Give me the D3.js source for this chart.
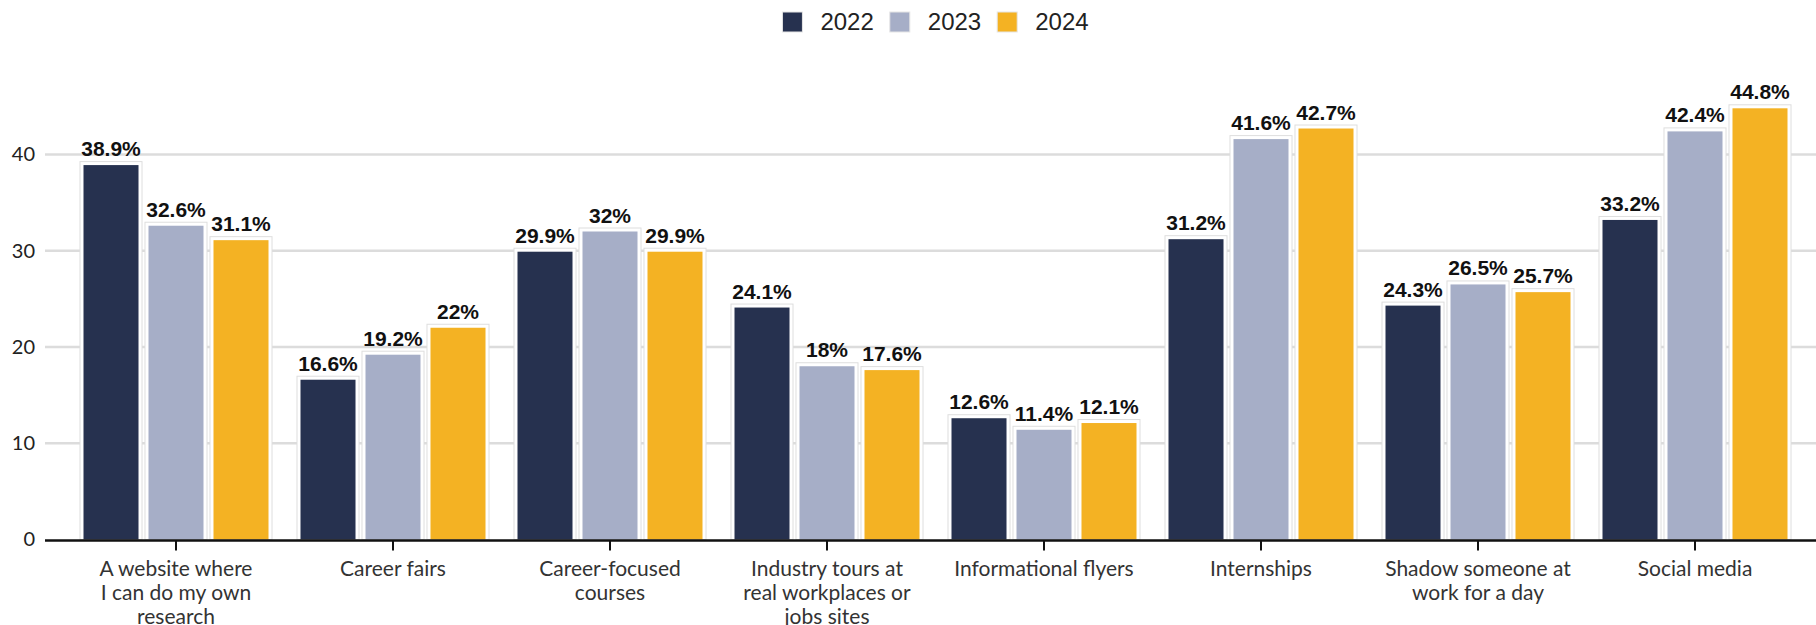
<!DOCTYPE html>
<html>
<head>
<meta charset="utf-8">
<script src="https://cdn.jsdelivr.net/npm/d3@7"></script>
<style>
  html, body { margin: 0; padding: 0; background: #fff; }
  svg { display: block; }
</style>
</head>
<body>
<svg id="chart" width="1816" height="625"></svg>
<script>
// Data
const categories = [
  "A website where I can do my own research",
  "Career fairs",
  "Career-focused courses",
  "Industry tours at real workplaces or jobs sites",
  "Informational flyers",
  "Internships",
  "Shadow someone at work for a day",
  "Social media"
];
const categoryLines = [
  ["A website where", "I can do my own", "research"],
  ["Career fairs"],
  ["Career-focused", "courses"],
  ["Industry tours at", "real workplaces or", "jobs sites"],
  ["Informational flyers"],
  ["Internships"],
  ["Shadow someone at", "work for a day"],
  ["Social media"]
];
const years = ["2022", "2023", "2024"];
const values2022 = [38.9, 16.6, 29.9, 24.1, 12.6, 31.2, 24.3, 33.2];
const values2023 = [32.6, 19.2, 32.0, 18.0, 11.4, 41.6, 26.5, 42.4];
const values2024 = [31.1, 22.0, 29.9, 17.6, 12.1, 42.7, 25.7, 44.8];
const yTicks = [0, 10, 20, 30, 40];
const colors = ["#26314f", "#a6aec7", "#f4b223"];

const series = [values2022, values2023, values2024];
const rows = categories.map((c, i) => ({
  category: c,
  lines: categoryLines[i],
  values: years.map((y, k) => ({ year: y, value: series[k][i] }))
}));

const svg = d3.select("#chart");
const plotLeft = 45, plotRight = 1816;

const x0 = d3.scaleBand().domain(categories).range([67.5, 1803.5]).padding(0);
const groupWidth = 185;
const x1 = d3.scaleBand().domain(years).range([0, groupWidth]).paddingInner(0.1538).paddingOuter(0);
const color = d3.scaleOrdinal().domain(years).range(colors);
const y = d3.scaleLinear().domain([0, 40]).range([539.5, 154.5]);

// Gridlines
svg.append("g")
  .selectAll("line")
  .data(yTicks.filter(d => d !== 0))
  .join("line")
  .attr("x1", plotLeft).attr("x2", plotRight)
  .attr("y1", d => y(d)).attr("y2", d => y(d))
  .attr("stroke", "#dcdcdc").attr("stroke-width", 2.5);

// Y axis labels
const yAxis = d3.axisLeft(y).tickValues(yTicks).tickSize(0).tickPadding(10);
svg.append("g")
  .attr("transform", `translate(${plotLeft},0)`)
  .call(yAxis)
  .call(g => g.select(".domain").remove())
  .call(g => g.selectAll("text")
    .attr("font-family", "Lato, sans-serif")
    .attr("font-size", 20)
    .attr("fill", "#222"));

// Bars
const groups = svg.append("g")
  .selectAll("g")
  .data(rows)
  .join("g")
  .attr("transform", d => `translate(${x0(d.category) + (x0.bandwidth() - groupWidth) / 2},0)`);

groups.selectAll("rect.halo")
  .data(d => d.values)
  .join("rect")
  .attr("class", "halo")
  .attr("x", d => x1(d.year) - 3.5)
  .attr("y", d => y(d.value) - 3.5)
  .attr("width", x1.bandwidth() + 7)
  .attr("height", d => y(0) - y(d.value) + 3.5)
  .attr("fill", "#fff")
  .attr("stroke", "#dedede")
  .attr("stroke-width", 1);

groups.selectAll("rect.bar")
  .data(d => d.values)
  .join("rect")
  .attr("class", "bar")
  .attr("x", d => x1(d.year))
  .attr("y", d => y(d.value))
  .attr("width", x1.bandwidth())
  .attr("height", d => y(0) - y(d.value))
  .attr("fill", d => color(d.year));

// Value labels
groups.selectAll("text.val")
  .data(d => d.values)
  .join("text")
  .attr("class", "val")
  .attr("x", d => x1(d.year) + x1.bandwidth() / 2)
  .attr("y", d => y(d.value) - 9)
  .attr("text-anchor", "middle")
  .attr("font-family", "'Liberation Sans', Arial, sans-serif")
  .attr("font-weight", "bold")
  .attr("font-size", 21)
  .attr("fill", "#111")
  .text(d => `${d.value}%`);

// X axis
const xAxis = svg.append("g").attr("transform", `translate(0,${y(0)})`);
xAxis.append("line")
  .attr("x1", plotLeft).attr("x2", plotRight)
  .attr("y1", 1).attr("y2", 1)
  .attr("stroke", "#111").attr("stroke-width", 2.5);
xAxis.selectAll("line.tick")
  .data(rows)
  .join("line")
  .attr("class", "tick")
  .attr("x1", d => x0(d.category) + x0.bandwidth() / 2)
  .attr("x2", d => x0(d.category) + x0.bandwidth() / 2)
  .attr("y1", 1).attr("y2", 11)
  .attr("stroke", "#111").attr("stroke-width", 2);
xAxis.selectAll("text")
  .data(rows)
  .join("text")
  .attr("x", d => x0(d.category) + x0.bandwidth() / 2)
  .attr("y", 36.5)
  .attr("text-anchor", "middle")
  .attr("font-family", "Lato, sans-serif")
  .attr("font-size", 21)
  .attr("fill", "#333")
  .selectAll("tspan")
  .data(d => d.lines)
  .join("tspan")
  .attr("x", function () { return d3.select(this.parentNode).attr("x"); })
  .attr("dy", (d, i) => i === 0 ? 0 : 24)
  .text(d => d);

// Legend
const legend = svg.append("g");
const items = legend.selectAll("g")
  .data(years)
  .join("g");
items.append("rect")
  .attr("width", 20).attr("height", 20)
  .attr("y", 12)
  .attr("fill", d => color(d))
  .attr("stroke", "#e6e6e6").attr("stroke-width", 1);
items.append("text")
  .attr("x", 38).attr("y", 30)
  .attr("font-family", "'Liberation Sans', Arial, sans-serif")
  .attr("font-size", 24)
  .attr("fill", "#222")
  .text(d => d);
let cursor = 0;
const offsets = [];
items.each(function () {
  offsets.push(cursor);
  const w = this.querySelector("text").getComputedTextLength();
  cursor += 38 + w + 16;
});
const legendWidth = cursor - 16;
const legendStart = 935.5 - legendWidth / 2;
items.attr("transform", (d, i) => `translate(${legendStart + offsets[i]},0)`);
</script>
</body>
</html>
